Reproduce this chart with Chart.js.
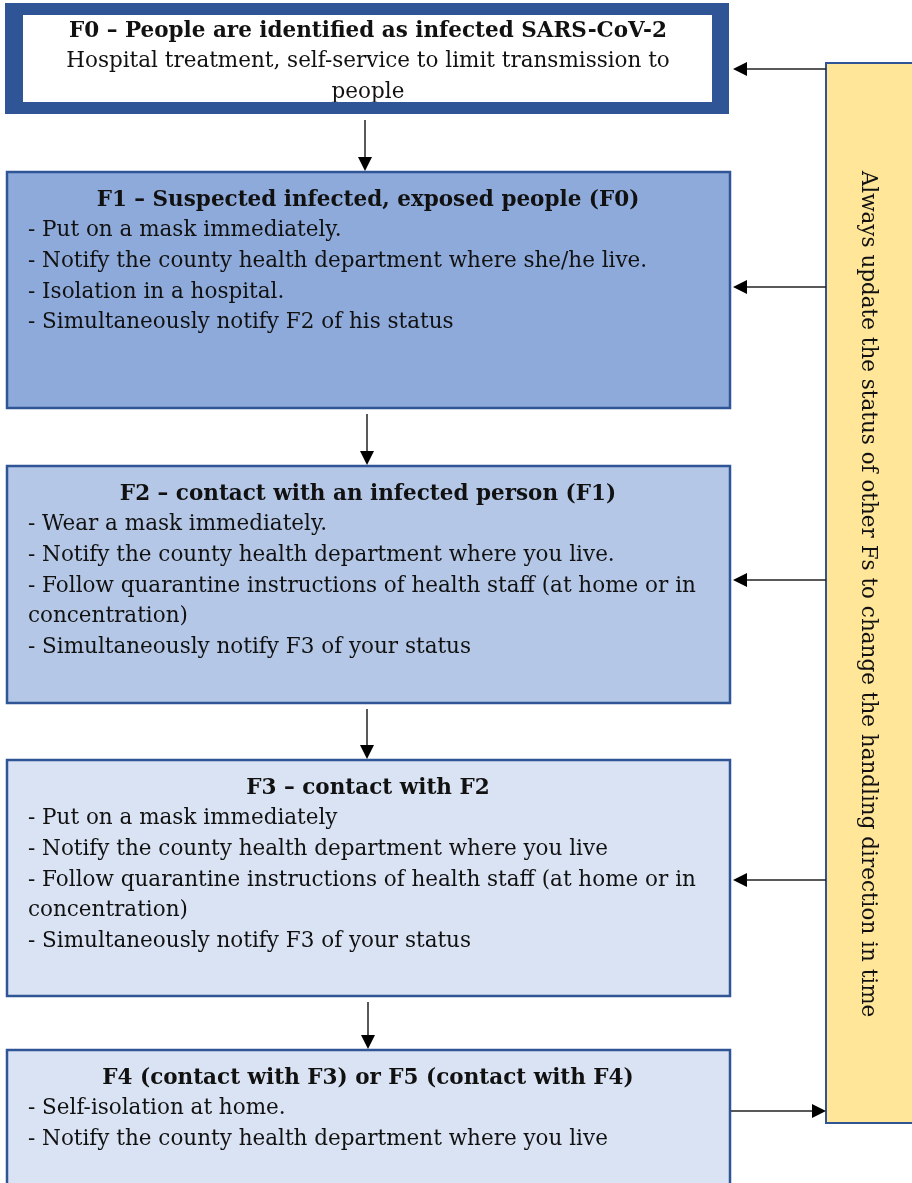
<!DOCTYPE html>
<html>
<head>
<meta charset="utf-8">
<script src="https://cdn.jsdelivr.net/npm/chart.js@4"></script>
<style>
  body { margin: 0; background: #fff; }
  canvas { display: block; }
</style>
</head>
<body>
<canvas id="flow" width="912" height="1183"></canvas>
<script>
// flow stages, top to bottom
const stageTitles = [
    'F0 – People are identified as infected SARS-CoV-2',
    'F1 – Suspected infected, exposed people (F0)',
    'F2 – contact with an infected person (F1)',
    'F3 – contact with F2',
    'F4 (contact with F3) or F5 (contact with F4)'
];
const stageLines = [
    ['Hospital treatment, self-service to limit transmission to', 'people'],
    ['- Put on a mask immediately.',
     '- Notify the county health department where she/he live.',
     '- Isolation in a hospital.',
     '- Simultaneously notify F2 of his status'],
    ['- Wear a mask immediately.',
     '- Notify the county health department where you live.',
     '- Follow quarantine instructions of health staff (at home or in',
     'concentration)',
     '- Simultaneously notify F3 of your status'],
    ['- Put on a mask immediately',
     '- Notify the county health department where you live',
     '- Follow quarantine instructions of health staff (at home or in',
     'concentration)',
     '- Simultaneously notify F3 of your status'],
    ['- Self-isolation at home.',
     '- Notify the county health department where you live']
];
const sideNote = 'Always update the status of other Fs to change the handling direction in time';

// layout (in scale units = page pixels)
const boxTop = [3, 172, 466, 760, 1050];
const boxBottom = [114, 408, 703, 996, 1200];
const boxFill = ['#ffffff', '#8eaadb', '#b4c7e7', '#dae3f3', '#dae3f3'];
const sideArrowY = [69, 287, 580, 880];
const BORDER = '#2f5597';
const SERIF = '"DejaVu Serif", "Liberation Serif", serif';

function arrow(ctx, x1, y1, x2, y2) {
    const ang = Math.atan2(y2 - y1, x2 - x1);
    const head = 14, half = 7;
    ctx.strokeStyle = '#222';
    ctx.lineWidth = 1.5;
    ctx.beginPath();
    ctx.moveTo(x1, y1);
    ctx.lineTo(x2 - head * Math.cos(ang), y2 - head * Math.sin(ang));
    ctx.stroke();
    ctx.fillStyle = '#000';
    ctx.beginPath();
    ctx.moveTo(x2, y2);
    ctx.lineTo(x2 - head * Math.cos(ang) - half * Math.sin(ang), y2 - head * Math.sin(ang) + half * Math.cos(ang));
    ctx.lineTo(x2 - head * Math.cos(ang) + half * Math.sin(ang), y2 - head * Math.sin(ang) - half * Math.cos(ang));
    ctx.closePath();
    ctx.fill();
}

const flowPlugin = {
    id: 'flow',
    beforeDatasetsDraw(chart) {
        const ctx = chart.ctx;
        const xs = chart.scales.x, ys = chart.scales.y;
        const X = v => xs.getPixelForValue(v);
        const Y = v => ys.getPixelForValue(v);
        ctx.save();

        // side note box
        const sx1 = X(826), sx2 = X(914), sy1 = Y(63), sy2 = Y(1123);
        ctx.fillStyle = '#ffe699';
        ctx.fillRect(sx1, sy1, sx2 - sx1, sy2 - sy1);
        ctx.strokeStyle = BORDER;
        ctx.lineWidth = 2;
        ctx.strokeRect(sx1, sy1, sx2 - sx1, sy2 - sy1);
        ctx.save();
        ctx.translate(X(868), Y(594));
        ctx.rotate(Math.PI / 2);
        ctx.fillStyle = '#111';
        ctx.font = '21.5px ' + SERIF;
        ctx.textAlign = 'center';
        ctx.textBaseline = 'middle';
        ctx.fillText(sideNote, 0, 0);
        ctx.restore();

        // stage boxes
        stageTitles.forEach((title, i) => {
            const x1 = X(i === 0 ? 5 : 7), x2 = X(i === 0 ? 729 : 730);
            const y1 = Y(boxTop[i]), y2 = Y(boxBottom[i]);
            ctx.fillStyle = boxFill[i];
            ctx.fillRect(x1, y1, x2 - x1, y2 - y1);
            if (i === 0) {
                ctx.fillStyle = BORDER;
                ctx.fillRect(x1, y1, x2 - x1, 12);
                ctx.fillRect(x1, y2 - 12, x2 - x1, 12);
                ctx.fillRect(x1, y1, 18, y2 - y1);
                ctx.fillRect(x2 - 17, y1, 17, y2 - y1);
            } else {
                ctx.strokeStyle = BORDER;
                ctx.lineWidth = 2.5;
                ctx.strokeRect(x1, y1, x2 - x1, y2 - y1);
            }
            ctx.fillStyle = '#111';
            ctx.textBaseline = 'middle';
            const cx = X(368);
            const titleY = Y(boxTop[i] + 28);
            ctx.font = 'bold 21.5px ' + SERIF;
            ctx.textAlign = 'center';
            ctx.fillText(title, cx, titleY);
            ctx.font = '21.5px ' + SERIF;
            stageLines[i].forEach((line, j) => {
                const ly = titleY + (j + 1) * 30.7;
                if (i === 0) {
                    ctx.textAlign = 'center';
                    ctx.fillText(line, cx, ly);
                } else {
                    ctx.textAlign = 'left';
                    ctx.fillText(line, X(28), ly);
                }
            });
            if (i === 0) {
                // thick frame overlaps the last line
                ctx.fillStyle = BORDER;
                ctx.fillRect(x1, y2 - 12, x2 - x1, 12);
            }
        });

        // downward arrows between stages
        const downX = [365, 367, 367, 368];
        downX.forEach((x, i) => {
            arrow(ctx, X(x), Y(boxBottom[i] + 6), X(x), Y(boxTop[i + 1] - 1));
        });
        // from side note back to stages
        sideArrowY.forEach(y => arrow(ctx, X(826), Y(y), X(733), Y(y)));
        arrow(ctx, X(731), Y(1111), X(826), Y(1111));

        ctx.restore();
    }
};

new Chart(document.getElementById('flow'), {
    type: 'scatter',
    data: { datasets: [{ data: [], pointRadius: 0 }] },
    options: {
        responsive: false,
        animation: false,
        events: [],
        layout: { padding: 0 },
        plugins: { legend: { display: false }, tooltip: { enabled: false } },
        scales: {
            x: { type: 'linear', min: 0, max: 912, display: false },
            y: { type: 'linear', min: 0, max: 1183, reverse: true, display: false }
        }
    },
    plugins: [flowPlugin]
});
</script>
</body>
</html>
